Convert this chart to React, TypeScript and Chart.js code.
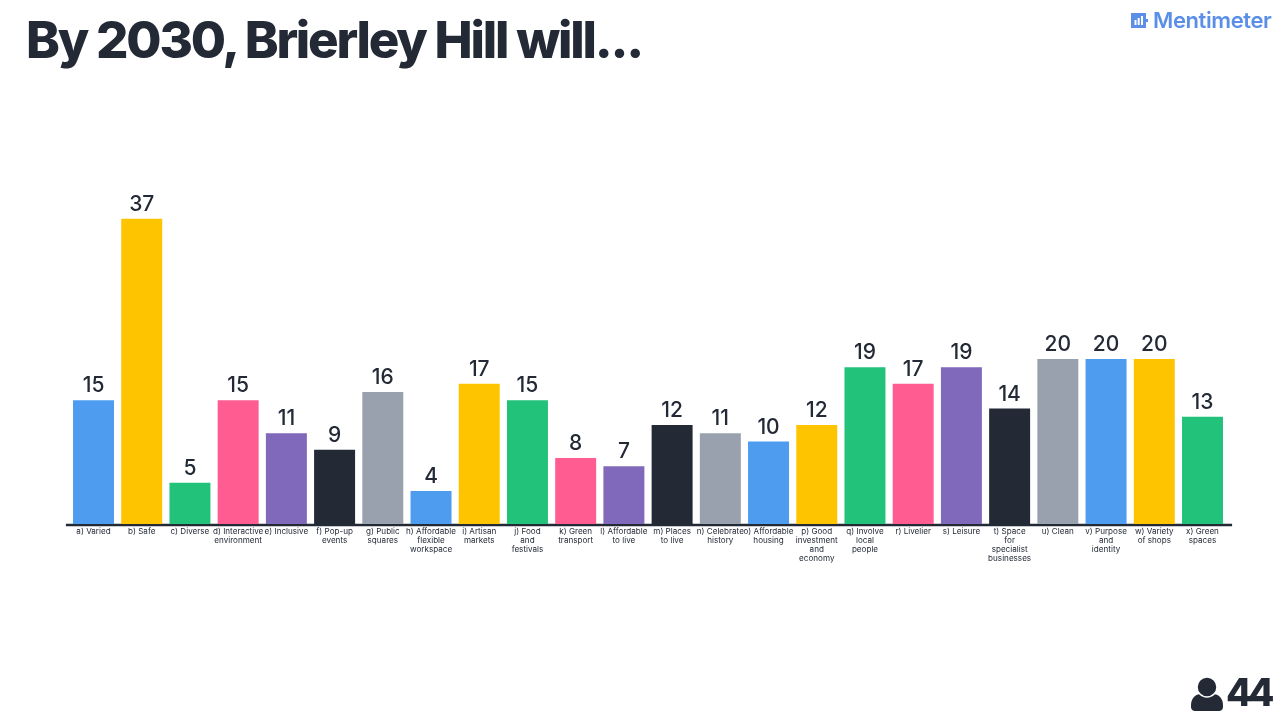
import React, { useEffect, useRef } from "react";
import { Chart, registerables } from "chart.js";

Chart.register(...registerables);

const categories: string[][] = [
  ["a) Varied"], ["b) Safe"], ["c) Diverse"], ["d) Interactive", "environment"], ["e) Inclusive"],
  ["f) Pop-up", "events"], ["g) Public", "squares"], ["h) Affordable", "flexible", "workspace"],
  ["i) Artisan", "markets"], ["j) Food", "and", "festivals"], ["k) Green", "transport"],
  ["l) Affordable", "to live"], ["m) Places", "to live"], ["n) Celebrate", "history"],
  ["o) Affordable", "housing"], ["p) Good", "investment", "and", "economy"], ["q) Involve", "local", "people"],
  ["r) Livelier"], ["s) Leisure"], ["t) Space", "for", "specialist", "businesses"], ["u) Clean"],
  ["v) Purpose", "and", "identity"], ["w) Variety", "of shops"], ["x) Green", "spaces"],
];
const votes = [15, 37, 5, 15, 11, 9, 16, 4, 17, 15, 8, 7, 12, 11, 10, 12, 19, 17, 19, 14, 20, 20, 20, 13];
const palette = ["#4e9cf0", "#ffc400", "#23c27b", "#ff5c92", "#8069ba", "#232a36", "#9aa1ae"];
const title = "By 2030, Brierley Hill will...";
const brand = "Mentimeter";
const participants = "44";

const ink = "#232a36";
const font = "Inter, 'Noto Sans', sans-serif";

const overlay = {
  id: "overlay",
  beforeDatasetsDraw(chart: any) {
    const { ctx, chartArea } = chart;
    const y = chart.scales.y.getPixelForValue(0);
    ctx.save();
    ctx.strokeStyle = ink;
    ctx.lineWidth = 2.5;
    ctx.beginPath();
    ctx.moveTo(chartArea.left - 3.5, y + 1);
    ctx.lineTo(chartArea.right + 5.5, y + 1);
    ctx.stroke();
    ctx.restore();
  },
  afterDatasetsDraw(chart: any) {
    const { ctx } = chart;
    const meta = chart.getDatasetMeta(0);
    ctx.save();
    ctx.fillStyle = ink;
    ctx.font = `500 21px ${font}`;
    ctx.textAlign = "center";
    ctx.textBaseline = "alphabetic";
    meta.data.forEach((bar: any, i: number) => {
      ctx.fillText(String(votes[i]), bar.x, bar.y - 8);
    });
    ctx.restore();
  },
};

export default function App() {
  const ref = useRef<HTMLCanvasElement>(null);
  useEffect(() => {
    document.body.style.margin = "0";
    document.body.style.background = "#fff";
    const chart = new Chart(ref.current!, {
      type: "bar",
      data: {
        labels: categories,
        datasets: [{
          data: votes,
          backgroundColor: votes.map((_, i) => palette[i % palette.length]),
          barPercentage: 0.85,
          categoryPercentage: 1,
        }],
      },
      options: {
        responsive: false,
        animation: false,
        layout: { padding: { left: 69.4, right: 48.4, top: 194, bottom: 0 } },
        plugins: { legend: { display: false }, tooltip: { enabled: false } },
        scales: {
          x: {
            grid: { display: false },
            border: { display: false },
            afterFit(scale: any) { scale.height = 201; },
            ticks: {
              autoSkip: false,
              maxRotation: 0,
              minRotation: 0,
              padding: -5,
              color: ink,
              font: { family: font, size: 8.1, lineHeight: 1.11 },
            },
          },
          y: { display: false, min: 0, max: 40 },
        },
      },
      plugins: [overlay],
    });
    return () => chart.destroy();
  }, []);

  return (
    <div style={{ position: "relative", width: 1275, height: 725, overflow: "hidden", fontFamily: font }}>
      <canvas ref={ref} width={1275} height={725} style={{ position: "absolute", left: 0, top: 0 }} />
      <div style={{ position: "absolute", left: 26, top: 9, fontSize: 51, fontWeight: 800, color: ink, letterSpacing: -2.2, whiteSpace: "nowrap" }}>{title}</div>
      <svg style={{ position: "absolute", left: 1131, top: 13 }} width={17} height={15} viewBox="0 0 17 15">
        <rect width="15" height="15" fill="#5b8ee6" />
        <rect x="15" y="6" width="2" height="3" fill="#5b8ee6" />
        <rect x="3.5" y="7" width="2" height="5" fill="#fff" />
        <rect x="6.7" y="5" width="2" height="7" fill="#fff" />
        <rect x="10" y="3" width="2" height="9" fill="#fff" />
      </svg>
      <div style={{ position: "absolute", left: 1153, top: 7, fontSize: 22, fontWeight: 600, color: "#5b8ee6", letterSpacing: -0.4, whiteSpace: "nowrap" }}>{brand}</div>
      <svg style={{ position: "absolute", left: 1191, top: 677 }} width={32} height={34} viewBox="0 0 32 34">
        <path d="M0 28 C0 20 6 17 10 17 H22 C26 17 32 20 32 28 V30 C32 32.5 30 34 28 34 H4 C2 34 0 32.5 0 30 Z" fill={ink} />
        <circle cx="16" cy="10" r="10" fill={ink} stroke="#fff" strokeWidth="1.5" />
      </svg>
      <div style={{ position: "absolute", left: 1226, top: 669, fontSize: 38, fontWeight: 800, color: ink, letterSpacing: -4, whiteSpace: "nowrap" }}>{participants}</div>
    </div>
  );
}
